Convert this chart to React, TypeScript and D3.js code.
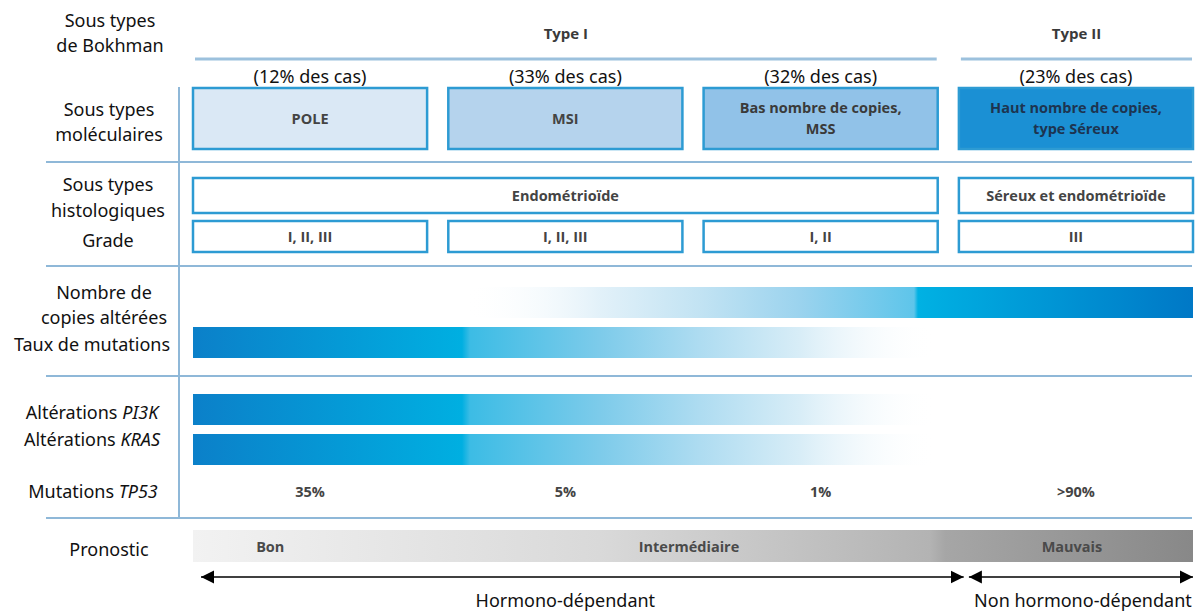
import React from "react";
import * as d3 from "d3";

// ---------- data ----------
const subtypes = ["POLE", "MSI", "Bas nombre de copies,\nMSS", "Haut nombre de copies,\ntype Séreux"];
const shares = ["(12% des cas)", "(33% des cas)", "(32% des cas)", "(23% des cas)"];
const bokhmanTypes = ["Type I", "Type II"];
const bokhmanSpan = [[0, 2], [3, 3]];
const histologyTypes = ["Endométrioïde", "Séreux et endométrioïde"];
const histologySpan = [[0, 2], [3, 3]];
const grades = ["I, II, III", "I, II, III", "I, II", "III"];
const tp53 = ["35%", "5%", "1%", ">90%"];
const prognosis = ["Bon", "Intermédiaire", "Mauvais"];
const hormoneLabels = ["Hormono-dépendant", "Non hormono-dépendant"];
const hormoneSpan = [[0, 2], [3, 3]];

// ---------- style ----------
const W = 1200, H = 612;
const FONT = "'Noto Sans', 'Open Sans', sans-serif";
const BFONT = "'Open Sans', 'Noto Sans', sans-serif";
const boxFills = ["#dae8f5", "#b5d3ed", "#91c2e8", "#1b90d4"];
const boxText = ["#444", "#444", "#3a3a3a", "#1d3450"];
const strokeBlue = "#2d9bd3";
const sepColor = "#8fb8d8";

export default function App() {
  const x = d3.scaleBand<string>().domain(subtypes).range([193, 1193]).paddingInner(0.083).paddingOuter(0);
  const bw = x.bandwidth();
  const left = (i: number) => x(subtypes[i]) as number;
  const right = (i: number) => left(i) + bw;
  const center = (i: number) => left(i) + bw / 2;
  // gradient positions, as fraction of the full row width
  const g = d3.scaleLinear().domain([193, 1193]).range([0, 1]);

  const labelStyle = { fontFamily: FONT, fontSize: 18, fill: "#111" } as const;
  const boldStyle = { fontFamily: BFONT, fontSize: 14.5, fontWeight: 700 } as const;

  const leftLabels: { lines: (string | [string, string])[]; cx: number; ys: number[] }[] = [
    { lines: ["Sous types", "de Bokhman"], cx: 110, ys: [21, 46] },
    { lines: ["Sous types", "moléculaires"], cx: 109, ys: [110, 135] },
    { lines: ["Sous types", "histologiques", "Grade"], cx: 108, ys: [185, 211, 241] },
    { lines: ["Nombre de", "copies altérées"], cx: 104, ys: [293, 318] },
    { lines: ["Taux de mutations"], cx: 92, ys: [345] },
    { lines: [["Altérations ", "PI3K"], ["Altérations ", "KRAS"]], cx: 92, ys: [413, 440] },
    { lines: [["Mutations ", "TP53"]], cx: 93, ys: [492] },
    { lines: ["Pronostic"], cx: 109, ys: [550] },
  ];

  const sepYs = [162, 266, 376, 518];
  const lowBars = [
    { y: 327, h: 31 },
    { y: 394, h: 31 },
    { y: 434, h: 31 },
  ];

  return (
    <svg width={W} height={H} style={{ position: "absolute", left: 0, top: 0, background: "#fff" }}>
      <defs>
        <linearGradient id="nombre" gradientUnits="userSpaceOnUse" x1={193} x2={1193} y1={0} y2={0}>
          <stop offset={g(193)} stopColor="#ffffff" stopOpacity={0} />
          <stop offset={g(465)} stopColor="#ffffff" stopOpacity={0} />
          <stop offset={g(600)} stopColor="#e2f1f9" />
          <stop offset={g(700)} stopColor="#c2e3f3" />
          <stop offset={g(800)} stopColor="#9bd3ee" />
          <stop offset={g(914)} stopColor="#5ec5ea" />
          <stop offset={g(918)} stopColor="#00b1e3" />
          <stop offset={g(1193)} stopColor="#0078c6" />
        </linearGradient>
        <linearGradient id="fade" gradientUnits="userSpaceOnUse" x1={193} x2={1193} y1={0} y2={0}>
          <stop offset={g(193)} stopColor="#0b80c9" />
          <stop offset={g(462)} stopColor="#00afe1" />
          <stop offset={g(470)} stopColor="#3cbce5" />
          <stop offset={g(600)} stopColor="#7dcbea" />
          <stop offset={g(700)} stopColor="#aedcf1" />
          <stop offset={g(800)} stopColor="#d8edf7" />
          <stop offset={g(935)} stopColor="#ffffff" stopOpacity={0} />
        </linearGradient>
        <linearGradient id="prog" gradientUnits="userSpaceOnUse" x1={193} x2={1193} y1={0} y2={0}>
          <stop offset={g(193)} stopColor="#f2f2f2" />
          <stop offset={g(600)} stopColor="#d9d9d9" />
          <stop offset={g(930)} stopColor="#b3b3b3" />
          <stop offset={g(945)} stopColor="#a6a6a6" />
          <stop offset={g(1193)} stopColor="#888888" />
        </linearGradient>
        <marker id="ah" viewBox="0 0 10 10" refX={10} refY={5} markerWidth={13} markerHeight={14} markerUnits="userSpaceOnUse" orient="auto-start-reverse">
          <path d="M0,0 L10,5 L0,10 z" fill="#000" />
        </marker>
      </defs>

      {/* separators */}
      {sepYs.map((y, i) => (
        <line key={"s" + i} x1={46} x2={1192} y1={y} y2={y} stroke={sepColor} strokeWidth={2} />
      ))}
      <line x1={179} x2={179} y1={87} y2={518} stroke={sepColor} strokeWidth={2} />

      {/* left labels */}
      {leftLabels.map((lab, i) =>
        lab.lines.map((ln, j) => (
          <text key={`l${i}-${j}`} x={lab.cx} y={lab.ys[j]} dy="0.35em" textAnchor="middle" style={labelStyle}>
            {typeof ln === "string" ? ln : (
              <>
                {ln[0]}
                <tspan fontStyle="italic">{ln[1]}</tspan>
              </>
            )}
          </text>
        ))
      )}

      {/* Bokhman types */}
      {bokhmanTypes.map((t, i) => {
        const [a, b] = bokhmanSpan[i];
        const x1 = left(a) + 2, x2 = right(b) - 1;
        return (
          <g key={t}>
            <text x={(x1 + x2) / 2} y={34} dy="0.35em" textAnchor="middle" style={{ ...boldStyle, fontSize: 15, fill: "#3a3a3a" }}>{t}</text>
            <line x1={x1} x2={x2} y1={59} y2={59} stroke="#9cc1dd" strokeWidth={3} />
          </g>
        );
      })}

      {/* shares and molecular boxes */}
      {subtypes.map((s, i) => {
        const lines = s.split("\n");
        return (
          <g key={s}>
            <text x={center(i)} y={77} dy="0.35em" textAnchor="middle" style={labelStyle}>{shares[i]}</text>
            <rect x={left(i)} y={88} width={bw} height={61} fill={boxFills[i]} stroke={strokeBlue} strokeWidth={2.5} />
            {lines.map((ln, j) => (
              <text key={j} x={center(i)} y={118.5 + (j - (lines.length - 1) / 2) * 21} dy="0.35em" textAnchor="middle" style={{ ...boldStyle, fill: boxText[i] }}>{ln}</text>
            ))}
          </g>
        );
      })}

      {/* histology */}
      {histologyTypes.map((t, i) => {
        const [a, b] = histologySpan[i];
        const x1 = left(a), x2 = right(b);
        return (
          <g key={t}>
            <rect x={x1} y={178} width={x2 - x1} height={35} fill="#fff" stroke={strokeBlue} strokeWidth={2.5} />
            <text x={(x1 + x2) / 2} y={195.5} dy="0.35em" textAnchor="middle" style={{ ...boldStyle, fill: "#444" }}>{t}</text>
          </g>
        );
      })}

      {/* grades */}
      {grades.map((gr, i) => (
        <g key={"g" + i}>
          <rect x={left(i)} y={221} width={bw} height={31} fill="#fff" stroke={strokeBlue} strokeWidth={2.5} />
          <text x={center(i)} y={236.5} dy="0.35em" textAnchor="middle" style={{ ...boldStyle, fill: "#444" }}>{gr}</text>
        </g>
      ))}

      {/* gradient bars */}
      <rect x={193} y={287} width={1000} height={31} fill="url(#nombre)" />
      {lowBars.map((b, i) => (
        <rect key={"b" + i} x={193} y={b.y} width={right(2) - 193} height={b.h} fill="url(#fade)" />
      ))}

      {/* TP53 */}
      {tp53.map((t, i) => (
        <text key={"t" + i} x={center(i)} y={492} dy="0.35em" textAnchor="middle" style={{ ...boldStyle, fill: "#444" }}>{t}</text>
      ))}

      {/* prognosis */}
      <rect x={193} y={530} width={1000} height={32} fill="url(#prog)" />
      <text x={left(0) + bw * 0.33} y={547} dy="0.35em" textAnchor="middle" style={{ ...boldStyle, fill: "#4a4a4a" }}>{prognosis[0]}</text>
      <text x={(right(1) + left(2)) / 2 - 4} y={547} dy="0.35em" textAnchor="middle" style={{ ...boldStyle, fill: "#4a4a4a" }}>{prognosis[1]}</text>
      <text x={center(3) - 4} y={547} dy="0.35em" textAnchor="middle" style={{ ...boldStyle, fill: "#4a4a4a" }}>{prognosis[2]}</text>

      {/* hormone arrows */}
      {hormoneLabels.map((t, i) => {
        const [a, b] = hormoneSpan[i];
        const x1 = i === 0 ? left(a) + 8 : left(a) + 10;
        const x2 = i === 0 ? right(b) + 26 : right(b);
        return (
          <g key={t}>
            <line x1={x1} x2={x2} y1={577} y2={577} stroke="#000" strokeWidth={1.5} markerStart="url(#ah)" markerEnd="url(#ah)" />
            <text x={(left(a) + right(b)) / 2 + (i === 1 ? 7 : 0)} y={601} dy="0.35em" textAnchor="middle" style={labelStyle}>{t}</text>
          </g>
        );
      })}
    </svg>
  );
}
